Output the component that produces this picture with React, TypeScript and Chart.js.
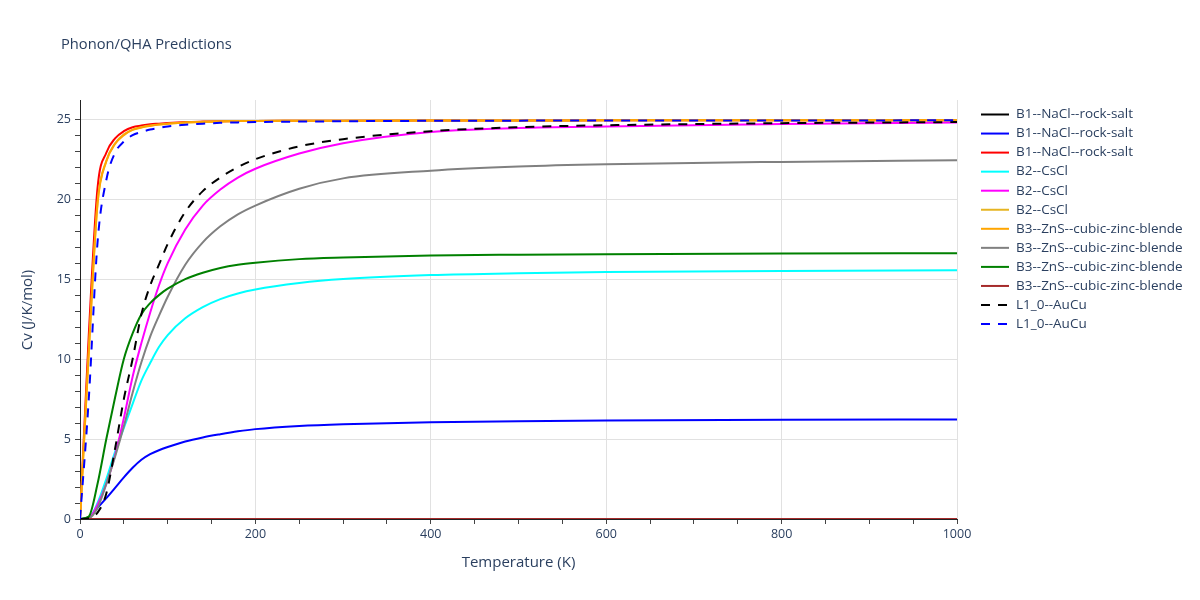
import React, { useEffect, useRef } from 'react';
import { Chart, registerables } from 'chart.js';

Chart.register(...registerables);

const chartTitle = 'Phonon/QHA Predictions';
const xAxisTitle = 'Temperature (K)';
const yAxisTitle = 'Cv (J/K/mol)';

const temperatures = [0, 10, 20, 30, 40, 50, 60, 70, 80, 90, 100, 120, 140, 160, 180, 200, 250, 300, 400, 500, 600, 800, 1000];

const b1Black = [0, 0, 0, 0, 0, 0, 0, 0, 0, 0, 0, 0, 0, 0, 0, 0, 0, 0, 0, 0, 0, 0, 0];
const b1Blue = [0, 0.1, 0.7, 1.3, 1.95, 2.6, 3.2, 3.7, 4.05, 4.3, 4.5, 4.85, 5.1, 5.3, 5.48, 5.62, 5.82, 5.93, 6.05, 6.12, 6.16, 6.2, 6.22];
const b1Red = [0, 11.5, 20.7, 22.9, 23.8, 24.25, 24.5, 24.6, 24.68, 24.72, 24.76, 24.82, 24.85, 24.87, 24.88, 24.89, 24.9, 24.91, 24.92, 24.92, 24.93, 24.93, 24.93];
const b2Cyan = [0, 0.05, 1.0, 2.5, 4.2, 5.7, 7.2, 8.65, 9.75, 10.75, 11.5, 12.55, 13.25, 13.75, 14.1, 14.35, 14.75, 15.0, 15.25, 15.37, 15.44, 15.5, 15.55];
const b2Magenta = [0, 0.05, 0.9, 2.2, 4.0, 6.3, 8.9, 11.0, 12.9, 14.6, 16.0, 18.1, 19.6, 20.6, 21.35, 21.9, 22.85, 23.5, 24.2, 24.45, 24.55, 24.7, 24.8];
const b2Gold = [0, 10.5, 19.8, 22.4, 23.5, 24.05, 24.35, 24.5, 24.6, 24.67, 24.72, 24.8, 24.84, 24.86, 24.88, 24.89, 24.9, 24.91, 24.92, 24.92, 24.93, 24.93, 24.93];
const b3Orange = [0, 10.4, 19.7, 22.35, 23.45, 24.0, 24.33, 24.48, 24.58, 24.66, 24.71, 24.79, 24.83, 24.86, 24.88, 24.89, 24.9, 24.91, 24.92, 24.92, 24.93, 24.93, 24.93];
const b3Gray = [0, 0.05, 0.7, 2.2, 3.9, 5.8, 7.9, 9.8, 11.4, 12.7, 13.9, 15.9, 17.3, 18.3, 19.05, 19.6, 20.65, 21.3, 21.78, 22.04, 22.18, 22.33, 22.43];
const b3Green = [0, 0.15, 2.2, 5.0, 7.6, 10.0, 11.6, 12.8, 13.5, 14.0, 14.4, 15.0, 15.4, 15.7, 15.9, 16.03, 16.25, 16.35, 16.48, 16.53, 16.56, 16.6, 16.62];
const b3Brown = [0, 0, 0, 0, 0, 0, 0, 0, 0, 0, 0, 0, 0, 0, 0, 0, 0, 0, 0, 0, 0, 0, 0];
const l10Black = [0, 0.05, 0.4, 1.6, 4.4, 7.5, 10.0, 12.8, 14.6, 15.9, 17.2, 19.2, 20.5, 21.35, 22.0, 22.5, 23.3, 23.75, 24.25, 24.5, 24.62, 24.75, 24.82];
const l10Blue = [0, 7.5, 17.3, 21.2, 22.9, 23.6, 24.0, 24.2, 24.35, 24.45, 24.55, 24.65, 24.72, 24.77, 24.8, 24.82, 24.85, 24.87, 24.9, 24.91, 24.92, 24.92, 24.93];

const seriesNames = [
  'B1--NaCl--rock-salt', 'B1--NaCl--rock-salt', 'B1--NaCl--rock-salt',
  'B2--CsCl', 'B2--CsCl', 'B2--CsCl',
  'B3--ZnS--cubic-zinc-blende', 'B3--ZnS--cubic-zinc-blende', 'B3--ZnS--cubic-zinc-blende', 'B3--ZnS--cubic-zinc-blende',
  'L1_0--AuCu', 'L1_0--AuCu',
];
const seriesValues = [b1Black, b1Blue, b1Red, b2Cyan, b2Magenta, b2Gold, b3Orange, b3Gray, b3Green, b3Brown, l10Black, l10Blue];
const seriesColors = ['#000000', '#0000ff', '#ff0000', '#00ffff', '#ff00ff', '#e6b422', '#ffa500', '#808080', '#008000', '#a52a2a', '#000000', '#0000ff'];
const seriesDashed = [false, false, false, false, false, false, false, false, false, false, true, true];

const xTickValues = [0, 200, 400, 600, 800, 1000];
const yTickValues = [0, 5, 10, 15, 20, 25];

const FONT = '"Open Sans", verdana, arial, sans-serif';
const TEXT_COLOR = '#2a3f5f';
const DASH = [9, 8];

const textPlugin = {
  id: 'plotlyTexts',
  afterDraw(chart: any) {
    const ctx = chart.ctx;
    ctx.save();
    ctx.fillStyle = TEXT_COLOR;
    ctx.textBaseline = 'middle';
    ctx.textAlign = 'left';
    ctx.font = `14.7px ${FONT}`;
    ctx.fillText(chartTitle, 61, 45);

    ctx.font = `15px ${FONT}`;
    ctx.textAlign = 'center';
    const area = chart.chartArea;
    ctx.fillText(xAxisTitle, (area.left + area.right) / 2, 563);
    ctx.save();
    ctx.translate(28, 310);
    ctx.rotate(-Math.PI / 2);
    ctx.fillText(yAxisTitle, 0, 0);
    ctx.restore();

    ctx.textAlign = 'left';
    ctx.font = `13.5px ${FONT}`;
    chart.data.datasets.forEach((ds: any, i: number) => {
      const y = 114.5 + i * 19.05;
      ctx.save();
      ctx.strokeStyle = ds.borderColor;
      ctx.lineWidth = 2;
      ctx.setLineDash(ds.borderDash || []);
      ctx.beginPath();
      ctx.moveTo(981, y);
      ctx.lineTo(1009, y);
      ctx.stroke();
      ctx.restore();
      ctx.fillStyle = TEXT_COLOR;
      ctx.fillText(ds.label, 1016, y);
    });
    ctx.restore();
  },
};

export default function App() {
  const canvasRef = useRef<HTMLCanvasElement | null>(null);

  useEffect(() => {
    const canvas = canvasRef.current;
    if (!canvas) return;
    const n = seriesValues.length;
    const datasets = seriesValues.map((vals, i) => ({
      label: seriesNames[i],
      data: temperatures.map((t, j) => ({ x: t, y: vals[j] })),
      borderColor: seriesColors[i],
      backgroundColor: seriesColors[i],
      borderWidth: 2,
      borderDash: seriesDashed[i] ? DASH : [],
      pointRadius: 0,
      fill: false,
      cubicInterpolationMode: 'monotone' as const,
      order: n - i,
    }));

    const chart = new Chart(canvas, {
      type: 'line',
      data: { datasets },
      options: {
        responsive: false,
        animation: false,
        layout: { padding: { left: 0, top: 100, right: 243, bottom: 0 } },
        plugins: {
          legend: { display: false },
          title: { display: false },
          tooltip: { enabled: false },
        },
        scales: {
          x: {
            type: 'linear',
            min: 0,
            max: 1000,
            afterFit: (scale: any) => { scale.height = 81; },
            ticks: {
              stepSize: 50,
              autoSkip: false,
              maxRotation: 0,
              padding: 3,
              color: TEXT_COLOR,
              font: { family: FONT, size: 12.5 },
              callback: (v: any) => (xTickValues.includes(Number(v)) ? String(v) : ''),
            },
            grid: {
              color: (c: any) => (c.tick && c.tick.value !== 0 && xTickValues.includes(c.tick.value) ? '#e1e1e1' : 'rgba(0,0,0,0)'),
              tickColor: '#444',
              tickLength: 5,
              lineWidth: 1,
            },
            border: { display: true, color: '#222', width: 1 },
          },
          y: {
            type: 'linear',
            min: 0,
            max: 26.2,
            afterFit: (scale: any) => { scale.width = 80; },
            afterBuildTicks: (scale: any) => {
              scale.ticks = scale.ticks.filter((t: any) => Math.abs(t.value - Math.round(t.value)) < 1e-6);
            },
            ticks: {
              stepSize: 1,
              autoSkip: false,
              padding: 4,
              color: TEXT_COLOR,
              font: { family: FONT, size: 12.5 },
              callback: (v: any) => (yTickValues.includes(Number(v)) ? String(v) : ''),
            },
            grid: {
              color: (c: any) => (c.tick && c.tick.value !== 0 && yTickValues.includes(c.tick.value) ? '#e1e1e1' : 'rgba(0,0,0,0)'),
              tickColor: '#444',
              tickLength: 5,
              lineWidth: 1,
            },
            border: { display: true, color: '#222', width: 1 },
          },
        },
      },
      plugins: [textPlugin],
    });
    return () => chart.destroy();
  }, []);

  return (
    <div style={{ position: 'fixed', left: 0, top: 0, width: 1200, height: 600, background: '#fff' }}>
      <canvas ref={canvasRef} width={1200} height={600} style={{ display: 'block' }} />
    </div>
  );
}
